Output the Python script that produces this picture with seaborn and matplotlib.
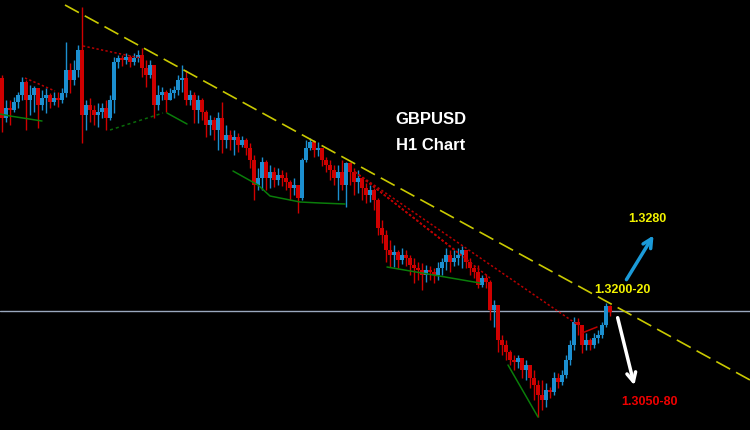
import numpy as np
import pandas as pd
import matplotlib
matplotlib.use("Agg")
import matplotlib.pyplot as plt
import seaborn as sns

# GBPUSD H1 candles, prices in pips (13393 -> 1.3393)
first_open = 13433
close_pips = [13393, 13403, 13401, 13409, 13416, 13429, 13411, 13416, 13423, 13406,
              13413, 13416, 13409, 13413, 13411, 13418, 13441, 13431, 13441, 13461,
              13396, 13406, 13401, 13396, 13399, 13403, 13393, 13411, 13449, 13453,
              13451, 13454, 13449, 13453, 13456, 13443, 13436, 13446, 13406, 13416,
              13419, 13411, 13418, 13421, 13431, 13433, 13411, 13416, 13401, 13411,
              13399, 13386, 13391, 13381, 13393, 13371, 13376, 13371, 13374, 13366,
              13371, 13363, 13351, 13326, 13333, 13349, 13333, 13339, 13331, 13336,
              13333, 13329, 13323, 13326, 13313, 13351, 13363, 13369, 13361, 13363,
              13351, 13346, 13341, 13333, 13339, 13326, 13348, 13339, 13329, 13333,
              13323, 13316, 13321, 13311, 13283, 13276, 13261, 13256, 13259, 13251,
              13256, 13253, 13246, 13243, 13241, 13236, 13241, 13239, 13236, 13243,
              13249, 13256, 13249, 13253, 13256, 13261, 13249, 13243, 13239, 13226,
              13233, 13229, 13201, 13206, 13171, 13166, 13159, 13151, 13149, 13153,
              13141, 13146, 13133, 13126, 13116, 13111, 13121, 13119, 13133, 13129,
              13136, 13151, 13166, 13189, 13186, 13166, 13171, 13166, 13173, 13176,
              13186, 13205, 13199]
high_pips = [13436, 13411, 13411, 13414, 13419, 13434, 13431, 13426, 13425, 13423,
             13421, 13423, 13418, 13419, 13419, 13423, 13469, 13448, 13451, 13466,
             13504, 13411, 13413, 13406, 13408, 13408, 13411, 13416, 13454, 13456,
             13456, 13458, 13456, 13458, 13461, 13463, 13451, 13451, 13446, 13426,
             13424, 13421, 13423, 13425, 13436, 13446, 13441, 13421, 13419, 13416,
             13413, 13401, 13396, 13394, 13399, 13409, 13386, 13381, 13381, 13378,
             13375, 13373, 13368, 13356, 13343, 13354, 13351, 13346, 13344, 13343,
             13341, 13339, 13331, 13333, 13326, 13353, 13371, 13373, 13371, 13369,
             13361, 13354, 13351, 13346, 13346, 13351, 13349, 13349, 13343, 13341,
             13333, 13328, 13326, 13323, 13313, 13291, 13281, 13271, 13266, 13261,
             13263, 13261, 13256, 13253, 13249, 13248, 13246, 13245, 13243, 13249,
             13253, 13263, 13261, 13261, 13263, 13265, 13261, 13253, 13246, 13246,
             13236, 13237, 13231, 13211, 13206, 13176, 13171, 13161, 13156, 13156,
             13153, 13151, 13143, 13141, 13131, 13131, 13128, 13124, 13139, 13138,
             13141, 13156, 13171, 13194, 13193, 13186, 13178, 13173, 13178, 13181,
             13189, 13208, 13206]
low_pips = [13379, 13389, 13386, 13399, 13403, 13411, 13381, 13396, 13399, 13383,
            13401, 13398, 13403, 13406, 13404, 13408, 13414, 13418, 13426, 13434,
            13368, 13381, 13389, 13386, 13384, 13393, 13381, 13391, 13398, 13443,
            13445, 13447, 13444, 13446, 13449, 13434, 13424, 13433, 13393, 13401,
            13411, 13399, 13411, 13413, 13416, 13419, 13406, 13406, 13388, 13388,
            13391, 13374, 13376, 13371, 13361, 13358, 13363, 13361, 13356, 13359,
            13364, 13356, 13343, 13311, 13321, 13321, 13321, 13323, 13324, 13326,
            13325, 13321, 13311, 13316, 13298, 13311, 13349, 13361, 13354, 13355,
            13345, 13339, 13331, 13326, 13311, 13321, 13304, 13326, 13316, 13318,
            13311, 13308, 13309, 13301, 13276, 13268, 13249, 13244, 13244, 13243,
            13247, 13245, 13236, 13228, 13231, 13221, 13229, 13231, 13228, 13231,
            13236, 13241, 13239, 13245, 13246, 13243, 13243, 13236, 13233, 13223,
            13224, 13223, 13191, 13184, 13159, 13156, 13151, 13146, 13141, 13143,
            13133, 13131, 13123, 13111, 13094, 13101, 13104, 13113, 13116, 13123,
            13126, 13133, 13146, 13161, 13176, 13158, 13161, 13161, 13163, 13168,
            13173, 13184, 13195]

# drawn objects, (bar index, price)
trend_x = [15.75, 187.0]
trend_y = [1.3506, 1.3131]
level_price = 1.3200

red_lines = [
    ([5.75, 13.25], [1.3433, 1.3420]),
    ([20.25, 34.5], [1.3465, 1.3453]),
    ([88.25, 113.25], [1.3339, 1.3261]),
    ([88.25, 117.0], [1.3339, 1.3249]),
    ([88.25, 122.0], [1.3339, 1.3233]),
    ([88.25, 144.0], [1.3339, 1.3186]),
]
red_short_x = [145.0, 148.75]
red_short_y = [1.3178, 1.3184]

green_lines = [
    ([-0.5, 2.0, 10.0], [1.3397, 1.3395, 1.3390]),
    ([41.25, 46.25], [1.3398, 1.3387]),
    ([57.75, 64.0, 67.0, 74.5, 79.5, 85.75], [1.3340, 1.3326, 1.3315, 1.3309, 1.3308, 1.3307]),
    ([96.25, 119.5], [1.3244, 1.3228]),
    ([126.5, 134.0], [1.3146, 1.3094]),
]
green_dash_x = [27.0, 40.25]
green_dash_y = [1.3381, 1.3398]

UP = "#1c8fd0"
DOWN = "#d00000"

df = pd.DataFrame({
    "close": np.array(close_pips) / 10000,
    "high": np.array(high_pips) / 10000,
    "low": np.array(low_pips) / 10000,
})
df["open"] = df["close"].shift(1).fillna(first_open / 10000)
df["i"] = np.arange(len(df))
colors = np.where(df["close"] >= df["open"], UP, DOWN)

sns.set_theme(style="dark", rc={"axes.facecolor": "black", "figure.facecolor": "black"})
plt.rcParams["font.family"] = ["Liberation Sans", "DejaVu Sans"]

fig = plt.figure(figsize=(7.5, 4.3), dpi=100)
ax = fig.add_axes([0, 0, 1, 1])
ax.set_facecolor("black")

# level and trend lines
ax.axhline(level_price, color="#9aa8be", lw=1, zorder=1)
sns.lineplot(x=trend_x, y=trend_y, ax=ax, color="#c9c900", lw=1.2,
             linestyle=(0, (9.5, 4)), zorder=4)
for xs, ys in red_lines:
    ax.plot(xs, ys, color="#b80000", lw=1.1, linestyle=(0, (1.5, 1.5)), zorder=3)
ax.plot(red_short_x, red_short_y, color="#c00000", lw=1.1, zorder=3)
for xs, ys in green_lines:
    ax.plot(xs, ys, color="#0a7d0a", lw=1.1, zorder=3)
ax.plot(green_dash_x, green_dash_y, color="#0a6a0a", lw=1.1, linestyle=(0, (2, 2)), zorder=3)

# candles
ax.vlines(df["i"], df["low"], df["high"], colors=colors, lw=1, zorder=2)
body = (df["close"] - df["open"]).abs().clip(lower=0.00008)
ax.bar(df["i"], body, bottom=np.minimum(df["open"], df["close"]), width=0.78,
       color=colors, linewidth=0, zorder=2)

# labels and arrows
ax.text(107.25, 1.3391, "GBPUSD", color="white", fontsize=12, fontweight="bold",
        ha="center", va="center")
ax.text(107.25, 1.3366, "H1 Chart", color="white", fontsize=12, fontweight="bold",
        ha="center", va="center")
ax.text(161.25, 1.3292, "1.3280", color="#f2f200", fontsize=9, fontweight="bold",
        ha="center", va="center")
ax.text(155.0, 1.3221, "1.3200-20", color="#f2f200", fontsize=9, fontweight="bold",
        ha="center", va="center")
ax.text(161.75, 1.3109, "1.3050-80", color="#ee0000", fontsize=9, fontweight="bold",
        ha="center", va="center")
ax.annotate("", xy=(163.25, 1.3278), xytext=(155.75, 1.3229),
            arrowprops=dict(arrowstyle="->", color="#1b9ad8", lw=2.5, mutation_scale=16))
ax.annotate("", xy=(158.25, 1.3123), xytext=(153.75, 1.3196),
            arrowprops=dict(arrowstyle="->", color="white", lw=2.5, mutation_scale=16))

ax.set_xlim(-0.5, 187)
ax.set_ylim(1.3081, 1.3511)
ax.set_axis_off()

fig.savefig("out.png", dpi=100, facecolor="black")
plt.close(fig)
